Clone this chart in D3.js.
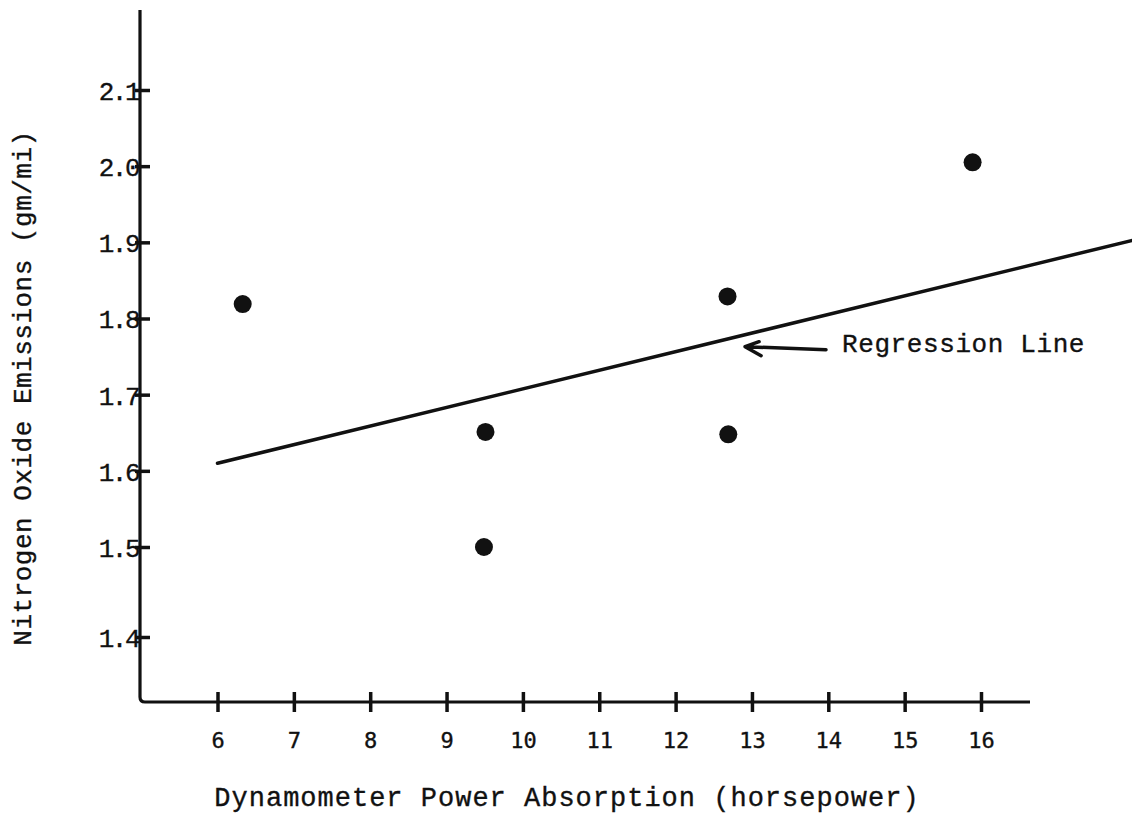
<!DOCTYPE html>
<html lang="en">
<head>
  <meta charset="UTF-8">
  <title>NOx vs Dynamometer Power</title>
  <script src="https://d3js.org/d3.v7.min.js"></script>
  <style>
    body { margin: 0; background: #fff; }
    text { fill: #111; stroke: #111; stroke-width: 0.35px; }
  </style>
</head>
<body>
  <svg id="svg" width="1132" height="818"></svg>
  <script>
    // tick values
    var xTicks = [6, 7, 8, 9, 10, 11, 12, 13, 14, 15, 16]
    var yTicks = [1.4, 1.5, 1.6, 1.7, 1.8, 1.9, 2.0, 2.1]

    // measured points (horsepower, gm/mi)
    var hp  = [6.33, 9.51, 9.49, 12.68, 12.69, 15.89]
    var nox = [1.819, 1.651, 1.500, 1.829, 1.648, 2.005]

    // regression line end points
    var regX = [6, 18]
    var regY = [1.610, 1.903]

    var svg = d3.select('#svg')
    var ink = '#111'

    var x = d3.scaleLinear().domain([6, 16]).range([217.5, 981])
    // hand drawn axis: 1.4 tick sits a little lower than even spacing
    var y = d3.scaleLinear().domain([1.4, 1.5, 2.1]).range([637, 547, 90])

    var x0 = 140, yTop = 10, yBase = 702, xEnd = 1030

    // axis lines with a slightly rounded corner
    svg.append('path')
      .attr('d', 'M' + x0 + ',' + yTop + ' L' + x0 + ',' + (yBase - 5) +
        ' Q' + x0 + ',' + yBase + ' ' + (x0 + 5) + ',' + yBase + ' L' + xEnd + ',' + yBase)
      .attr('fill', 'none')
      .attr('stroke', ink)
      .attr('stroke-width', 3.2)

    // y ticks
    var yAxis = d3.axisLeft(y).tickValues(yTicks).tickFormat(d3.format('.1f')).tickSize(0).tickPadding(6)
    var gy = svg.append('g').attr('transform', 'translate(' + x0 + ',0)').call(yAxis)
    gy.select('.domain').remove()
    gy.selectAll('.tick line')
      .attr('x1', -5).attr('x2', 10)
      .attr('stroke', ink).attr('stroke-width', 3.5)
    gy.selectAll('.tick text')
      .attr('x', -2)
      .attr('dy', '0.36em')
      .style('font-family', '"Liberation Mono", monospace')
      .style('font-size', '26px')
      .style('letter-spacing', '-2.5px')
      .style('fill', ink)

    // x ticks
    var xAxis = d3.axisBottom(x).tickValues(xTicks).tickFormat(d3.format('d')).tickSize(0).tickPadding(0)
    var gx = svg.append('g').attr('transform', 'translate(0,' + yBase + ')').call(xAxis)
    gx.select('.domain').remove()
    gx.selectAll('.tick line')
      .attr('y1', -10).attr('y2', 10)
      .attr('stroke', ink).attr('stroke-width', 3.5)
    gx.selectAll('.tick text')
      .attr('y', 46)
      .attr('dy', 0)
      .style('font-family', '"DejaVu Sans Mono", monospace')
      .style('font-size', '22px')
      .style('fill', ink)

    // regression line
    var line = d3.line().x(d => x(d[0])).y(d => y(d[1]))
    svg.append('path')
      .datum(d3.zip(regX, regY))
      .attr('d', line)
      .attr('fill', 'none')
      .attr('stroke', ink)
      .attr('stroke-width', 3.5)
      .attr('stroke-linecap', 'round')

    // points
    svg.selectAll('circle')
      .data(d3.zip(hp, nox))
      .enter()
      .append('circle')
      .attr('cx', d => x(d[0]))
      .attr('cy', d => y(d[1]))
      .attr('r', 9)
      .attr('fill', ink)

    // annotation arrow
    var tipX = x(12.91), tipY = y(1.763)
    var tailX = x(13.97), tailY = y(1.759)
    svg.append('path')
      .attr('d', 'M' + tailX + ',' + tailY + ' L' + tipX + ',' + tipY +
        ' M' + (tipX + 14) + ',' + (tipY - 5) + ' L' + tipX + ',' + tipY + ' L' + (tipX + 16) + ',' + (tipY + 9))
      .attr('fill', 'none')
      .attr('stroke', ink)
      .attr('stroke-width', 3.5)
      .attr('stroke-linecap', 'round')
      .attr('stroke-linejoin', 'round')

    svg.append('text')
      .attr('x', 842)
      .attr('y', 352)
      .style('font-family', '"Liberation Mono", monospace')
      .style('font-size', '26px')
      .style('letter-spacing', '0.6px')
      .text('Regression Line')

    // axis titles
    svg.append('text')
      .attr('x', 567)
      .attr('y', 806)
      .attr('text-anchor', 'middle')
      .style('font-family', '"Liberation Mono", monospace')
      .style('font-size', '27px')
      .style('letter-spacing', '1px')
      .text('Dynamometer Power Absorption (horsepower)')

    svg.append('text')
      .attr('transform', 'translate(31,' + 388 + ') rotate(-90)')
      .attr('text-anchor', 'middle')
      .style('font-family', '"Liberation Mono", monospace')
      .style('font-size', '26px')
      .style('letter-spacing', '0.5px')
      .text('Nitrogen Oxide Emissions (gm/mi)')
  </script>
</body>
</html>
